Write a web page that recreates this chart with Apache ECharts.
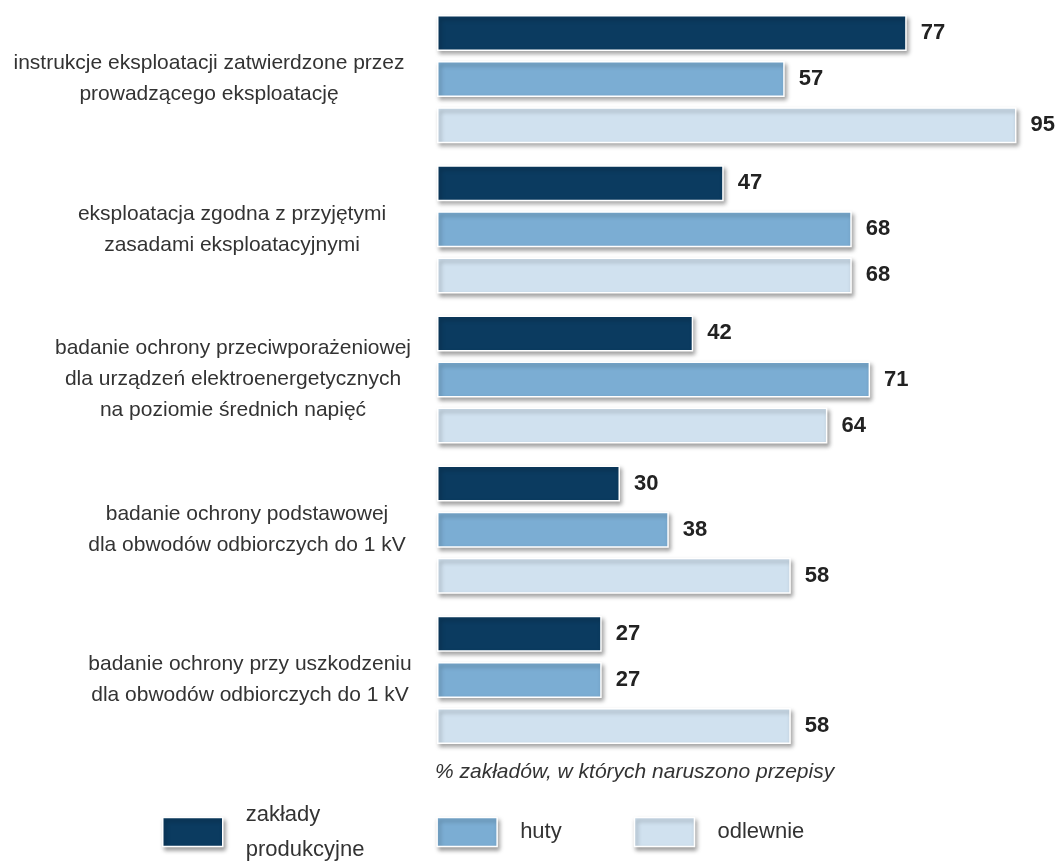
<!DOCTYPE html>
<html>
<head>
<meta charset="utf-8">
<script src="https://cdn.jsdelivr.net/npm/echarts@6/dist/echarts.min.js"></script>
<style>
  html, body { margin: 0; padding: 0; background: #fff; }
  #chart { width: 1059px; height: 864px; }
</style>
</head>
<body>
<div id="chart"></div>
<script>
// kategorie (od góry)
var categories = [
    'instrukcje eksploatacji zatwierdzone przez\nprowadzącego eksploatację',
    'eksploatacja zgodna z przyjętymi\nzasadami eksploatacyjnymi',
    'badanie ochrony przeciwporażeniowej\ndla urządzeń elektroenergetycznych\nna poziomie średnich napięć',
    'badanie ochrony podstawowej\ndla obwodów odbiorczych do 1 kV',
    'badanie ochrony przy uszkodzeniu\ndla obwodów odbiorczych do 1 kV'
];
var seriesNames = ['zakłady produkcyjne', 'huty', 'odlewnie'];
var zaklady = [77, 47, 42, 30, 27];
var huty = [57, 68, 71, 38, 27];
var odlewnie = [95, 68, 64, 58, 58];
var axisCaption = '% zakładów, w których naruszono przepisy';

var colors = ['#0b3b60', '#7badd3', '#d0e1ef'];
var font = '"Liberation Sans", Arial, Helvetica, sans-serif';
// przesunięcie środka podpisu kategorii (prawy padding)
var labelPad = [82, 36, 34, 6, 0];

var myChart = echarts.init(document.getElementById('chart'));

var barShadow = {
    shadowColor: 'rgba(0,0,0,0.35)',
    shadowBlur: 4,
    shadowOffsetX: 2,
    shadowOffsetY: 3
};

function makeSeries(name, values, color) {
    return {
        name: name,
        type: 'bar',
        data: values,
        barWidth: 36,
        barGap: '28%',
        itemStyle: Object.assign({
            color: color,
            borderColor: '#fff',
            borderWidth: 1.5
        }, barShadow),
        label: {
            show: true,
            position: 'right',
            distance: 14,
            fontFamily: font,
            fontSize: 22,
            fontWeight: 'bold',
            color: '#222'
        },
        emphasis: { disabled: true }
    };
}

var option = {
    backgroundColor: '#fff',
    animation: false,
    title: {
        text: axisCaption,
        left: 435,
        top: 762,
        padding: 0,
        textStyle: {
            fontFamily: font,
            fontSize: 21,
            fontStyle: 'italic',
            fontWeight: 'normal',
            color: '#333'
        }
    },
    legend: {
        data: seriesNames,
        left: 162,
        top: 797,
        padding: 0,
        itemWidth: 60,
        itemHeight: 29,
        itemGap: 72,
        icon: 'rect',
        itemStyle: Object.assign({ borderColor: '#fff', borderWidth: 1.5 }, barShadow),
        formatter: function (name) {
            return name.replace(' ', '\n');
        },
        textStyle: {
            fontFamily: font,
            fontSize: 22,
            lineHeight: 35,
            color: '#333',
            padding: [0, 0, 0, 18]
        }
    },
    grid: {
        left: 437,
        right: 12,
        top: 4,
        bottom: 109,
        outerBoundsMode: 'none'
    },
    xAxis: {
        type: 'value',
        min: 0,
        max: 100,
        show: false
    },
    yAxis: {
        type: 'category',
        inverse: true,
        data: categories.map(function (c, i) {
            return { value: c, textStyle: { align: 'center', padding: [0, labelPad[i], 0, 0] } };
        }),
        axisLine: { show: false },
        axisTick: { show: false },
        axisLabel: {
            interval: 0,
            margin: 187,
            align: 'center',
            fontFamily: font,
            fontSize: 21,
            lineHeight: 31,
            color: '#333'
        }
    },
    series: [
        makeSeries(seriesNames[0], zaklady, colors[0]),
        makeSeries(seriesNames[1], huty, colors[1]),
        makeSeries(seriesNames[2], odlewnie, colors[2])
    ]
};

myChart.setOption(option);
window.addEventListener('resize', function () {
    myChart.resize();
});
</script>
</body>
</html>
